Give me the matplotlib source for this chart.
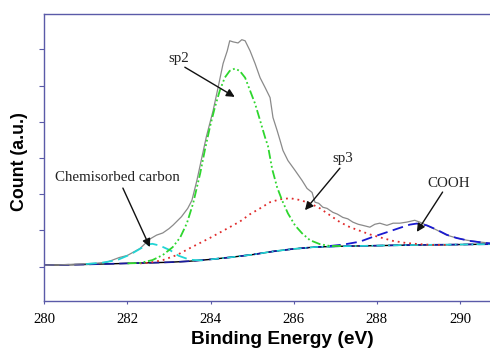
import numpy as np
import matplotlib
matplotlib.use("Agg")
import matplotlib.pyplot as plt

# measured spectrum (binding energy in eV, count in a.u.)
total_x = [280.0, 280.4, 280.8, 281.2, 281.5, 281.8, 282.0, 282.3, 282.55, 282.7,
           282.85, 283.0, 283.1, 283.3, 283.45, 283.55, 283.67, 283.79, 283.9, 284.06,
           284.18, 284.3, 284.4, 284.46, 284.54, 284.66, 284.75, 284.83, 284.95, 285.07,
           285.19, 285.31, 285.43, 285.5, 285.6, 285.67, 285.74, 285.86, 286.03, 286.2,
           286.32, 286.44, 286.51, 286.6, 286.7, 286.8, 286.94, 287.05, 287.18, 287.3,
           287.42, 287.55, 287.66, 287.83, 287.95, 288.07, 288.24, 288.39, 288.55, 288.72,
           288.91, 289.03, 289.2, 289.44, 289.68, 289.92, 290.16, 290.47, 290.72]
total_y = [0.99, 1.00, 1.02, 1.04, 1.07, 1.20, 1.26, 1.45, 1.72, 1.82,
           1.88, 2.00, 2.10, 2.33, 2.56, 2.78, 3.33, 3.97, 4.55, 5.26,
           5.90, 6.56, 6.91, 7.19, 7.16, 7.13, 7.22, 7.19, 6.91, 6.56,
           6.17, 5.90, 5.62, 5.07, 4.71, 4.44, 4.16, 3.88, 3.61, 3.33,
           3.11, 3.00, 2.73, 2.70, 2.59, 2.56, 2.45, 2.40, 2.31, 2.27,
           2.18, 2.12, 2.09, 2.04, 2.12, 2.15, 2.09, 2.15, 2.15, 2.18,
           2.23, 2.18, 2.09, 1.96, 1.82, 1.74, 1.68, 1.63, 1.60]

# background
base_x = [280.0, 281.0, 282.0, 283.0, 283.5, 284.0, 284.5, 285.0, 285.5, 286.0,
          286.5, 287.0, 288.0, 289.0, 290.0, 290.72]
base_y = [0.99, 1.01, 1.04, 1.07, 1.10, 1.15, 1.21, 1.28, 1.37, 1.44,
          1.49, 1.51, 1.53, 1.55, 1.56, 1.57]

# fitted components
sp2_x = [282.0, 282.3, 282.6, 282.85, 283.09, 283.27, 283.43, 283.58, 283.75, 283.86,
         283.98, 284.1, 284.22, 284.34, 284.46, 284.58, 284.7, 284.83, 284.95, 285.07,
         285.19, 285.31, 285.38, 285.48, 285.6, 285.72, 285.86, 286.03, 286.2, 286.39,
         286.63, 286.87, 287.2]
sp2_y = [1.04, 1.05, 1.13, 1.27, 1.49, 1.76, 2.15, 2.70, 3.53, 4.16,
         4.79, 5.34, 5.81, 6.17, 6.36, 6.42, 6.36, 6.17, 5.81, 5.45,
         4.99, 4.52, 4.28, 3.65, 3.14, 2.78, 2.42, 2.09, 1.87, 1.68,
         1.57, 1.52, 1.52]

sp3_x = [282.3, 282.54, 282.85, 283.19, 283.5, 283.98, 284.46, 284.71, 284.95, 285.19,
         285.43, 285.67, 285.91, 286.15, 286.39, 286.63, 286.87, 287.11, 287.35, 287.59,
         287.83, 288.07, 288.39, 288.72, 289.03, 289.34, 289.7]
sp3_y = [1.04, 1.06, 1.13, 1.27, 1.46, 1.74, 2.04, 2.20, 2.40, 2.56,
         2.73, 2.81, 2.84, 2.79, 2.70, 2.56, 2.37, 2.18, 2.04, 1.94,
         1.84, 1.76, 1.66, 1.60, 1.57, 1.55, 1.55]

chem_x = [281.0, 281.4, 281.75, 282.06, 282.3, 282.47, 282.6, 282.78, 283.03, 283.23,
          283.5, 283.82]
chem_y = [1.02, 1.06, 1.13, 1.28, 1.44, 1.56, 1.58, 1.53, 1.40, 1.25,
          1.14, 1.12]

cooh_x = [286.87, 287.2, 287.59, 287.9, 288.24, 288.55, 288.79, 288.96, 289.2, 289.44,
          289.68, 289.92, 290.23, 290.72]
cooh_y = [1.52, 1.56, 1.64, 1.77, 1.90, 2.02, 2.11, 2.14, 2.09, 1.97,
          1.83, 1.74, 1.66, 1.59]

labels = ["Chemisorbed carbon", "sp2", "sp3", "COOH"]

SPINE = "#5a5aa8"

fig = plt.figure(figsize=(4.9, 3.49), dpi=100)
ax = fig.add_axes([44.3 / 490, 48 / 349, 1 - 44.3 / 490, 287 / 349])

bx = np.array(base_x)
by = np.array(base_y)

ax.plot(base_x, base_y, color="black", lw=1.0)
ax.plot(base_x, base_y, color="#1a1aa0", lw=1.2, dashes=(6, 3))
tail = bx >= 283.8
ax.plot(bx[tail], by[tail], color="#22d4d4", lw=1.2, dashes=(5, 2, 1, 2))

ax.plot(total_x, total_y, color="#8a8a8a", lw=0.9)
ax.plot(chem_x, chem_y, color="#22d4d4", lw=1.3, dashes=(6, 3))
ax.plot(sp3_x, sp3_y, color="#e02a2a", lw=1.3, dashes=(1, 2.2))
ax.plot(cooh_x, cooh_y, color="#1a1ad0", lw=1.3, dashes=(6, 3))
ax.plot(sp2_x, sp2_y, color="#2ed62e", lw=1.3, dashes=(5, 1.5, 1, 1.5, 1, 1.5))

ax.set_xlim(280, 290.72)
ax.set_ylim(0, 7.93)
ax.set_xticks([280, 282, 284, 286, 288, 290])
ax.set_yticks(np.arange(0.95, 7.5, 1.0))
ax.set_yticklabels([])
ax.tick_params(axis="x", direction="out", length=2.5, color=SPINE, pad=6,
               labelsize=10.6, labelfontfamily="Liberation Serif")
ax.tick_params(axis="y", direction="out", length=3.5, color=SPINE)
for s in ["left", "bottom", "top"]:
    ax.spines[s].set_color(SPINE)
    ax.spines[s].set_linewidth(1.0)
ax.spines["right"].set_visible(False)

fig.text(282.5 / 490, 1 - 340 / 349, "Binding Energy (eV)", ha="center", va="center",
         fontsize=13.8, fontweight="bold", family="Liberation Sans")
fig.text(20 / 490, 1 - 162 / 349, "Count (a.u.)", ha="center", va="center",
         rotation=90, fontsize=12.8, fontweight="bold", family="Liberation Sans")

# annotations: text position, arrow tail, arrow tip (data coords)
notes = [
    ((281.75, 3.40), (281.89, 3.12), (282.54, 1.49)),
    ((283.24, 6.71), (283.38, 6.46), (284.58, 5.64)),
    ((287.18, 3.95), (287.11, 3.67), (286.27, 2.51)),
    ((289.72, 3.26), (289.58, 3.01), (288.96, 1.91)),
]
for lab, (txt, tail_pt, tip) in zip(labels, notes):
    ax.text(txt[0], txt[1], lab, ha="center", va="center", fontsize=10.8,
            family="Liberation Serif", color="#222222")
    ax.annotate("", xy=tip, xytext=tail_pt,
                arrowprops=dict(arrowstyle="-|>", color="#111111", lw=1.0,
                                mutation_scale=12, shrinkA=0, shrinkB=0))

fig.savefig("out.png", dpi=100)
